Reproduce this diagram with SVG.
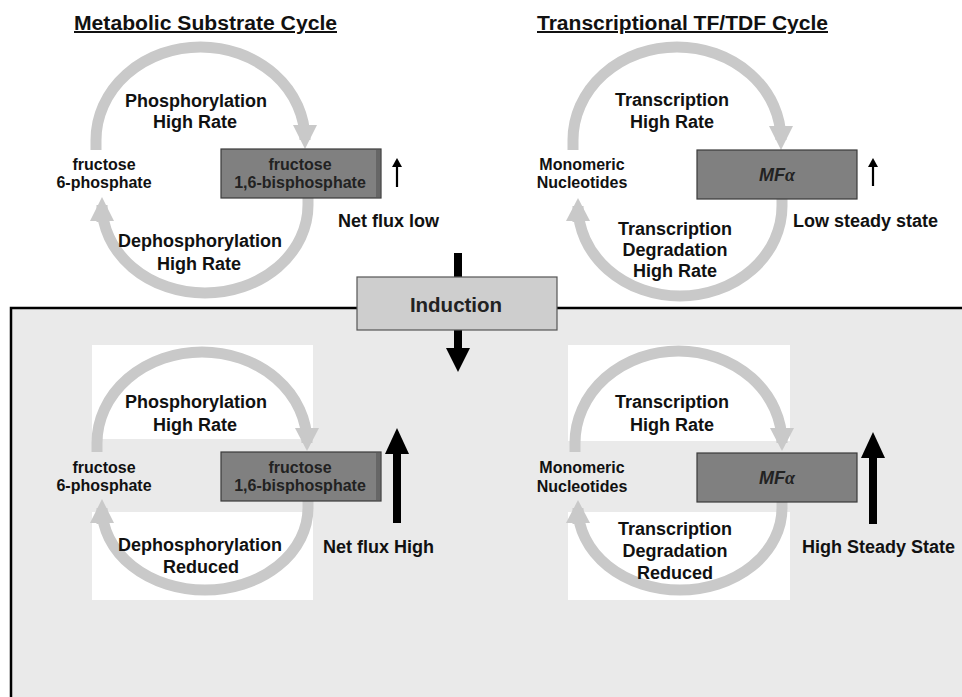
<svg xmlns="http://www.w3.org/2000/svg" width="962" height="697" viewBox="0 0 962 697">
<style>
text{font-family:"Liberation Sans",Arial,sans-serif;font-weight:bold;fill:#111}
.t{font-size:18px;text-anchor:middle}
.s{font-size:16px;text-anchor:middle}
.n{font-size:18px}
.title{font-size:20px;text-decoration:underline}
.ring{fill:none;stroke:#c9c9c9;stroke-width:11}
.head{fill:#c9c9c9}
.box{fill:#808080;stroke:#3a3a3a;stroke-width:1.2}
.wp{fill:#ffffff}
.blk{fill:#000}
.thin{stroke:#000;stroke-width:2.2;fill:none}
.mf{font-size:18px;font-style:italic;text-anchor:middle}
</style>
<rect width="962" height="697" fill="#ffffff"/>
<g id="frame">
<rect x="11" y="308" width="960" height="400" fill="#eaeaea" stroke="#000" stroke-width="2.5"/>
<rect class="wp" x="92" y="345" width="221" height="94"/>
<rect class="wp" x="92" y="512" width="221" height="88"/>
<rect class="wp" x="568" y="345" width="222" height="96"/>
<rect class="wp" x="568" y="512" width="222" height="88"/>
</g>
<g id="connectors">
<path class="ring" d="M96,150 L96,140 A104.5,93 0 0 1 305,140 L305,126"/>
<polygon class="head" points="293,125 317,125 305,149"/>
<path class="ring" d="M308,198 L308,205 A103,88 0 0 1 102,205 L102,222"/>
<polygon class="head" points="90,221 114,221 102,197"/>
<path class="ring" d="M573,150 L573,140 A104,93 0 0 1 781,140 L781,127"/>
<polygon class="head" points="769,126 793,126 781,150"/>
<path class="ring" d="M782,199 L782,206 A102,90 0 0 1 578,206 L578,222"/>
<polygon class="head" points="566,221 590,221 578,198"/>
<path class="ring" d="M97,452 L97,443 A105,91 0 0 1 307,443 L307,429"/>
<polygon class="head" points="295,428 319,428 307,451"/>
<path class="ring" d="M308,501 L308,508 A103,82 0 0 1 102,508 L102,524"/>
<polygon class="head" points="90,523 114,523 102,499"/>
<path class="ring" d="M575,452 L575,443 A103.5,92 0 0 1 782,443 L782,429"/>
<polygon class="head" points="770,428 794,428 782,451"/>
<path class="ring" d="M782,502 L782,508 A102,82 0 0 1 578,508 L578,524"/>
<polygon class="head" points="566,523 590,523 578,500"/>
<line class="thin" x1="397" y1="187" x2="397" y2="165"/>
<polygon class="blk" points="392,167 402,167 397,158"/>
<line class="thin" x1="873" y1="186" x2="873" y2="165"/>
<polygon class="blk" points="868,167 878,167 873,158"/>
<rect class="blk" x="454" y="253" width="8" height="25"/>
<rect class="blk" x="454" y="330" width="8" height="19"/>
<polygon class="blk" points="446,348 470,348 458,372"/>
<rect class="blk" x="393" y="452" width="8" height="71"/>
<polygon class="blk" points="385,454 409,454 397,428"/>
<rect class="blk" x="869" y="456" width="8" height="68"/>
<polygon class="blk" points="861,458 885,458 873,432"/>
</g>
<g id="titles">
<text class="title" x="74" y="30" textLength="263" lengthAdjust="spacingAndGlyphs">Metabolic Substrate Cycle</text>
<text class="title" x="537" y="30" textLength="291" lengthAdjust="spacingAndGlyphs">Transcriptional TF/TDF Cycle</text>
</g>
<g id="top-left">
<text class="t" x="196" y="107">Phosphorylation</text>
<text class="t" x="195" y="128">High Rate</text>
<text class="s" x="104" y="170">fructose</text>
<text class="s" x="104" y="188">6-phosphate</text>
<g id="f16bp-top">
<rect class="box" x="221" y="149" width="160" height="49"/>
<rect x="376" y="150" width="4" height="47" fill="#666"/>
<text class="s" x="300" y="170" style="fill:#222">fructose</text>
<text class="s" x="300" y="188" style="fill:#222">1,6-bisphosphate</text>
</g>
<text class="n" x="338" y="227">Net flux low</text>
<text class="t" x="200" y="247">Dephosphorylation</text>
<text class="t" x="199" y="270">High Rate</text>
</g>
<g id="top-right">
<text class="t" x="672" y="106">Transcription</text>
<text class="t" x="672" y="128">High Rate</text>
<text class="s" x="582" y="170">Monomeric</text>
<text class="s" x="582" y="188">Nucleotides</text>
<g id="mfa-top">
<rect class="box" x="697" y="150" width="160" height="49"/>
<text class="mf" x="777" y="181" style="fill:#222">MF<tspan font-family="Liberation Serif,serif">α</tspan></text>
</g>
<text class="n" x="793" y="227">Low steady state</text>
<text class="t" x="675" y="235">Transcription</text>
<text class="t" x="675" y="256">Degradation</text>
<text class="t" x="675" y="277">High Rate</text>
</g>
<g id="induction">
<rect x="357" y="277" width="200" height="53" fill="#cecece" stroke="#555" stroke-width="1.2"/>
<text x="456" y="312" style="font-size:20.5px;text-anchor:middle;fill:#222">Induction</text>
</g>
<g id="bottom-left">
<text class="t" x="196" y="408">Phosphorylation</text>
<text class="t" x="195" y="431">High Rate</text>
<text class="s" x="104" y="473">fructose</text>
<text class="s" x="104" y="491">6-phosphate</text>
<g id="f16bp-bottom">
<rect class="box" x="221" y="452" width="160" height="49"/>
<rect x="376" y="453" width="4" height="47" fill="#666"/>
<text class="s" x="300" y="473" style="fill:#222">fructose</text>
<text class="s" x="300" y="491" style="fill:#222">1,6-bisphosphate</text>
</g>
<text class="n" x="323" y="553">Net flux High</text>
<text class="t" x="200" y="551">Dephosphorylation</text>
<text class="t" x="201" y="573">Reduced</text>
</g>
<g id="bottom-right">
<text class="t" x="672" y="408">Transcription</text>
<text class="t" x="672" y="431">High Rate</text>
<text class="s" x="582" y="473">Monomeric</text>
<text class="s" x="582" y="492">Nucleotides</text>
<g id="mfa-bottom">
<rect class="box" x="697" y="453" width="160" height="49"/>
<text class="mf" x="777" y="484" style="fill:#222">MF<tspan font-family="Liberation Serif,serif">α</tspan></text>
</g>
<text class="n" x="802" y="553">High Steady State</text>
<text class="t" x="675" y="535">Transcription</text>
<text class="t" x="675" y="557">Degradation</text>
<text class="t" x="675" y="579">Reduced</text>
</g>
</svg>
